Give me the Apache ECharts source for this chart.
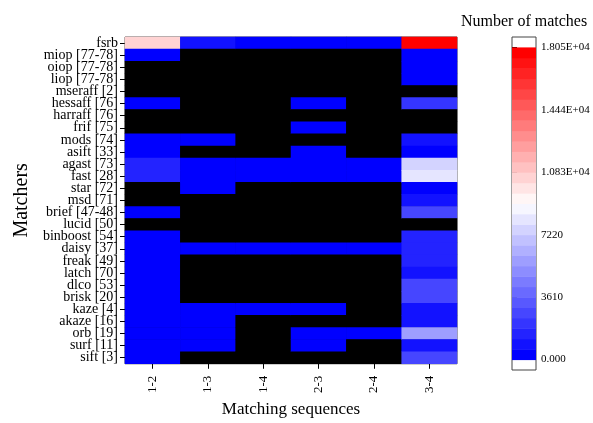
<!DOCTYPE html>
<html>
<head>
<meta charset="utf-8">
<script src="https://cdn.jsdelivr.net/npm/echarts@6/dist/echarts.min.js"></script>
<style>
  html, body { margin: 0; padding: 0; background: #fff; }
  #chart { width: 593px; height: 423px; }
</style>
</head>
<body>
<div id="chart"></div>
<script>
// Matchers, top to bottom
const matchers = [
  'fsrb', 'miop [77-78]', 'oiop [77-78]', 'liop [77-78]', 'mseraff [2]',
  'hessaff [76]', 'harraff [76]', 'frif [75]', 'mods [74]', 'asift [33]',
  'agast [73]', 'fast [28]', 'star [72]', 'msd [71]', 'brief [47-48]',
  'lucid [50]', 'binboost [54]', 'daisy [37]', 'freak [49]', 'latch [70]',
  'dlco [53]', 'brisk [20]', 'kaze [4]', 'akaze [16]', 'orb [19]',
  'surf [11]', 'sift [3]'
];
const sequences = ['1-2', '1-3', '1-4', '2-3', '2-4', '3-4'];

// Number of matches per matcher for each sequence pair (0 = no matches)
const seq12 = [10500, 300, 0, 0, 0, 300, 0, 0, 300, 300, 1400, 1400, 0, 0, 300, 0, 300, 300, 300, 300, 300, 300, 300, 300, 300, 300, 300];
const seq13 = [900, 0, 0, 0, 0, 0, 0, 0, 300, 0, 300, 300, 300, 0, 0, 0, 0, 300, 0, 0, 0, 0, 300, 300, 300, 300, 0];
const seq14 = [300, 0, 0, 0, 0, 0, 0, 0, 0, 0, 300, 300, 0, 0, 0, 0, 0, 300, 0, 0, 0, 0, 300, 0, 0, 0, 0];
const seq23 = [300, 0, 0, 0, 0, 300, 0, 300, 0, 300, 300, 300, 0, 0, 0, 0, 0, 300, 0, 0, 0, 0, 300, 0, 300, 300, 0];
const seq24 = [300, 0, 0, 0, 0, 0, 0, 0, 0, 0, 300, 300, 0, 0, 0, 0, 0, 300, 0, 0, 0, 0, 0, 0, 300, 0, 0];
const seq34 = [18050, 300, 300, 300, 0, 2100, 0, 0, 900, 300, 7500, 8100, 300, 900, 2700, 0, 1500, 1500, 1500, 900, 2700, 2700, 900, 900, 5700, 900, 2700];

// Colour scale
const scaleMax = 18050;
const scaleSteps = 30;
const cbarTicks = [0, 3610, 7220, 10830, 14440, 18050];
const cbarLabels = ['0.000', '3610', '7220', '1.083E+04', '1.444E+04', '1.805E+04'];

const columns = [seq12, seq13, seq14, seq23, seq24, seq34];
const heatData = [];
columns.forEach((col, ci) => {
  col.forEach((v, ri) => heatData.push([ci, ri, v]));
});

// blue -> white -> red steps
const step = scaleMax / scaleSteps;
function bwr(t) {
  let r, g, b;
  if (t < 0.5) { r = g = Math.round(510 * t); b = 255; }
  else { r = 255; g = b = Math.round(510 * (1 - t)); }
  return 'rgb(' + r + ',' + g + ',' + b + ')';
}
const pieces = [];
const cbarData = [];
for (let k = 0; k < scaleSteps; k++) {
  const lo = k * step, hi = (k + 1) * step;
  pieces.push({ gt: lo, lte: hi, color: bwr(k / (scaleSteps - 1)) });
  cbarData.push([lo, hi, (lo + hi) / 2]);
}

const serif = "'Liberation Serif', 'Times New Roman', 'DejaVu Serif', serif";

const chart = echarts.init(document.getElementById('chart'), null, { renderer: 'canvas' });
chart.setOption({
  animation: false,
  backgroundColor: '#fff',
  textStyle: { fontFamily: serif, color: '#000' },
  title: {
    text: 'Number of matches',
    left: 456, top: 9,
    textStyle: { fontFamily: serif, fontSize: 16, fontWeight: 'normal', color: '#000' }
  },
  visualMap: {
    type: 'piecewise',
    show: false,
    dimension: 2,
    seriesIndex: [0, 1],
    pieces: pieces,
    outOfRange: { color: '#000' }
  },
  grid: [
    { left: 125, top: 37, width: 332, height: 333, show: true, borderColor: '#444', borderWidth: 1, backgroundColor: '#000', containLabel: false },
    { left: 512, top: 37, width: 24, height: 333, show: true, borderColor: '#444', borderWidth: 1, backgroundColor: '#fff', containLabel: false }
  ],
  xAxis: [
    {
      type: 'category', gridIndex: 0, data: sequences,
      name: 'Matching sequences', nameLocation: 'middle', nameGap: 35,
      nameTextStyle: { fontFamily: serif, fontSize: 17, color: '#000' },
      axisLine: { show: false },
      axisTick: { show: true, alignWithLabel: true, length: 5, lineStyle: { color: '#000' } },
      axisLabel: { interval: 0, rotate: 90, fontFamily: serif, fontSize: 13, color: '#000', margin: 12 },
      splitLine: { show: false }
    },
    { type: 'value', gridIndex: 1, min: 0, max: 1, show: false }
  ],
  yAxis: [
    {
      type: 'category', gridIndex: 0, data: matchers, inverse: true,
      name: 'Matchers', nameLocation: 'middle', nameGap: 93, nameRotate: 90,
      nameTextStyle: { fontFamily: serif, fontSize: 20, color: '#000' },
      axisLine: { show: false },
      axisTick: { show: true, alignWithLabel: true, interval: 0, length: 5, lineStyle: { color: '#000' } },
      axisLabel: { interval: 0, fontFamily: serif, fontSize: 14, color: '#000', margin: 7 },
      splitLine: { show: false }
    },
    {
      type: 'value', gridIndex: 1, position: 'right',
      min: -step, max: scaleMax + step,
      axisLine: { show: false },
      splitLine: { show: false },
      axisTick: { show: true, length: 5, customValues: cbarTicks, lineStyle: { color: '#000' } },
      axisLabel: {
        show: true, fontFamily: serif, fontSize: 11, color: '#000', margin: 5,
        customValues: cbarTicks,
        formatter: v => cbarLabels[cbarTicks.indexOf(v)]
      }
    }
  ],
  series: [
    {
      type: 'heatmap', xAxisIndex: 0, yAxisIndex: 0,
      data: heatData,
      itemStyle: { borderWidth: 0 },
      emphasis: { disabled: true }
    },
    {
      type: 'custom', xAxisIndex: 1, yAxisIndex: 1,
      data: cbarData,
      encode: { y: [0, 1] },
      renderItem: function (params, api) {
        const p0 = api.coord([0, api.value(0)]);
        const p1 = api.coord([1, api.value(1)]);
        return {
          type: 'rect',
          shape: { x: p0[0], y: p1[1], width: p1[0] - p0[0], height: p0[1] - p1[1] + 0.5 },
          style: { fill: api.visual('color') }
        };
      }
    }
  ]
});
</script>
</body>
</html>
